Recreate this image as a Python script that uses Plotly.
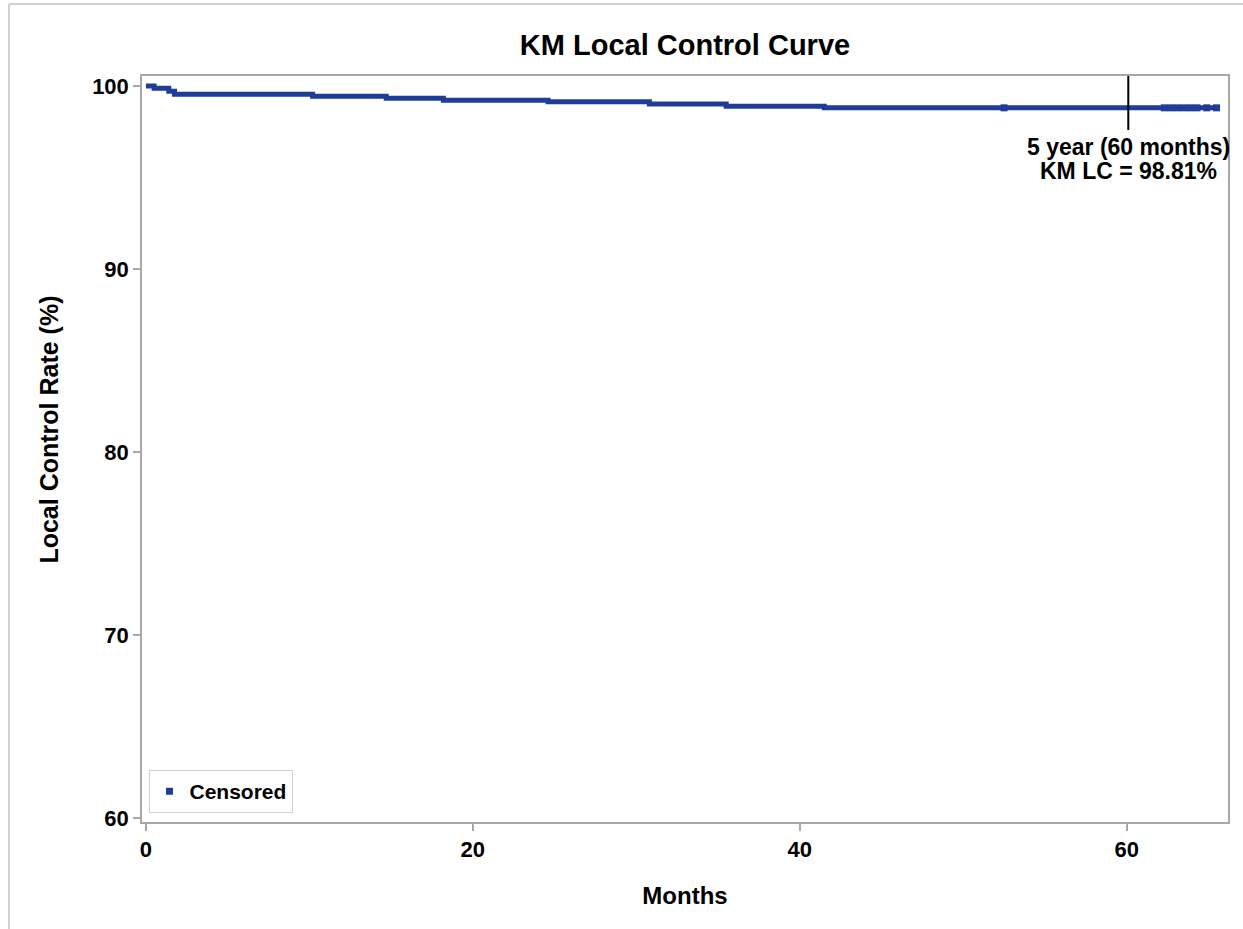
import plotly.graph_objects as go

# Kaplan-Meier step estimates (months, local control %)
step_months = [0, 0.5, 1.4, 1.75, 10.2, 14.7, 18.2, 24.6, 30.8, 35.5, 41.5, 65.7]
step_rate = [100, 99.88, 99.72, 99.55, 99.45, 99.34, 99.23, 99.14, 99.02, 98.90, 98.81, 98.81]

# visible censored marks near the tail
censor_months = [52.5, 62.3, 62.7, 63.1, 63.5, 63.9, 64.3, 64.9, 65.5]
censor_rate = [98.81] * len(censor_months)

five_year_month = 60.1
five_year_rate = 98.81
annot_lines = ["5 year (60 months)", "KM LC = %.2f%%" % five_year_rate]
annot_y = [96.67, 95.36]

x_ticks = [0, 20, 40, 60]
y_ticks = [60, 70, 80, 90, 100]

BLUE = "#1F3C99"
FONT = "Liberation Sans, Arial, sans-serif"

fig = go.Figure()
fig.add_trace(go.Scatter(
    x=step_months, y=step_rate, mode="lines", line=dict(color=BLUE, width=5, shape="hv"),
    showlegend=False, hoverinfo="skip"))
fig.add_trace(go.Scatter(
    x=censor_months, y=censor_rate, mode="markers", name="<b>Censored</b>",
    marker=dict(symbol="square", size=7, color=BLUE, line=dict(width=0))))

# 5-year drop line
fig.add_trace(go.Scatter(
    x=[five_year_month, five_year_month], y=[97.6, 100.6], mode="lines",
    line=dict(color="black", width=2), showlegend=False, hoverinfo="skip"))

for txt, yy in zip(annot_lines, annot_y):
    fig.add_annotation(x=five_year_month, y=yy, xref="x", yref="y", yanchor="middle", xanchor="center",
                       text="<b>%s</b>" % txt, showarrow=False,
                       font=dict(family=FONT, size=23, color="black"))

# y-axis title (placed as annotation to match its vertical offset)
fig.add_annotation(x=-0.086, y=0.5255, xref="paper", yref="paper", xanchor="center", yanchor="middle",
                   text="<b>Local Control Rate (%)</b>", textangle=-90, showarrow=False,
                   font=dict(family=FONT, size=25, color="black"))

axis_common = dict(showline=True, linecolor="#A8A8A8", linewidth=1.5, mirror=True,
                   ticks="outside", tickcolor="#A8A8A8", ticklen=7, tickwidth=1.5,
                   showgrid=False, zeroline=False,
                   tickfont=dict(family=FONT, size=22, color="black"))

fig.update_layout(
    width=1243, height=929,
    margin=dict(l=142, r=15, t=76, b=107),
    paper_bgcolor="white", plot_bgcolor="white",
    title=dict(text="<b>KM Local Control Curve</b>", x=685 / 1243, xanchor="center",
               y=1 - 45 / 929, yanchor="middle", font=dict(family=FONT, size=29, color="black")),
    xaxis=dict(range=[-0.24, 66.2], tickvals=x_ticks, ticktext=["<b>%d</b>" % v for v in x_ticks],
               title=dict(text="<b>Months</b>", font=dict(family=FONT, size=24, color="black"), standoff=26),
               **axis_common),
    yaxis=dict(range=[59.78, 100.55], tickvals=y_ticks, ticktext=["<b>%d</b>" % v for v in y_ticks],
               **axis_common),
    legend=dict(x=0.006, y=0.012, xanchor="left", yanchor="bottom", bordercolor="#D0D0D0", borderwidth=1,
                bgcolor="white", font=dict(family=FONT, size=21, color="black")),
    shapes=[
        dict(type="line", xref="paper", yref="paper", x0=-0.1225, x1=1.02, y0=1.0965, y1=1.0965,
             line=dict(color="#D0D0D0", width=2)),
        dict(type="line", xref="paper", yref="paper", x0=-0.1225, x1=-0.1225, y0=1.0965, y1=-0.15,
             line=dict(color="#D0D0D0", width=2)),
    ],
)

fig.write_html("out.html", config={"displayModeBar": False},
               post_script="document.body.style.margin='0';")
